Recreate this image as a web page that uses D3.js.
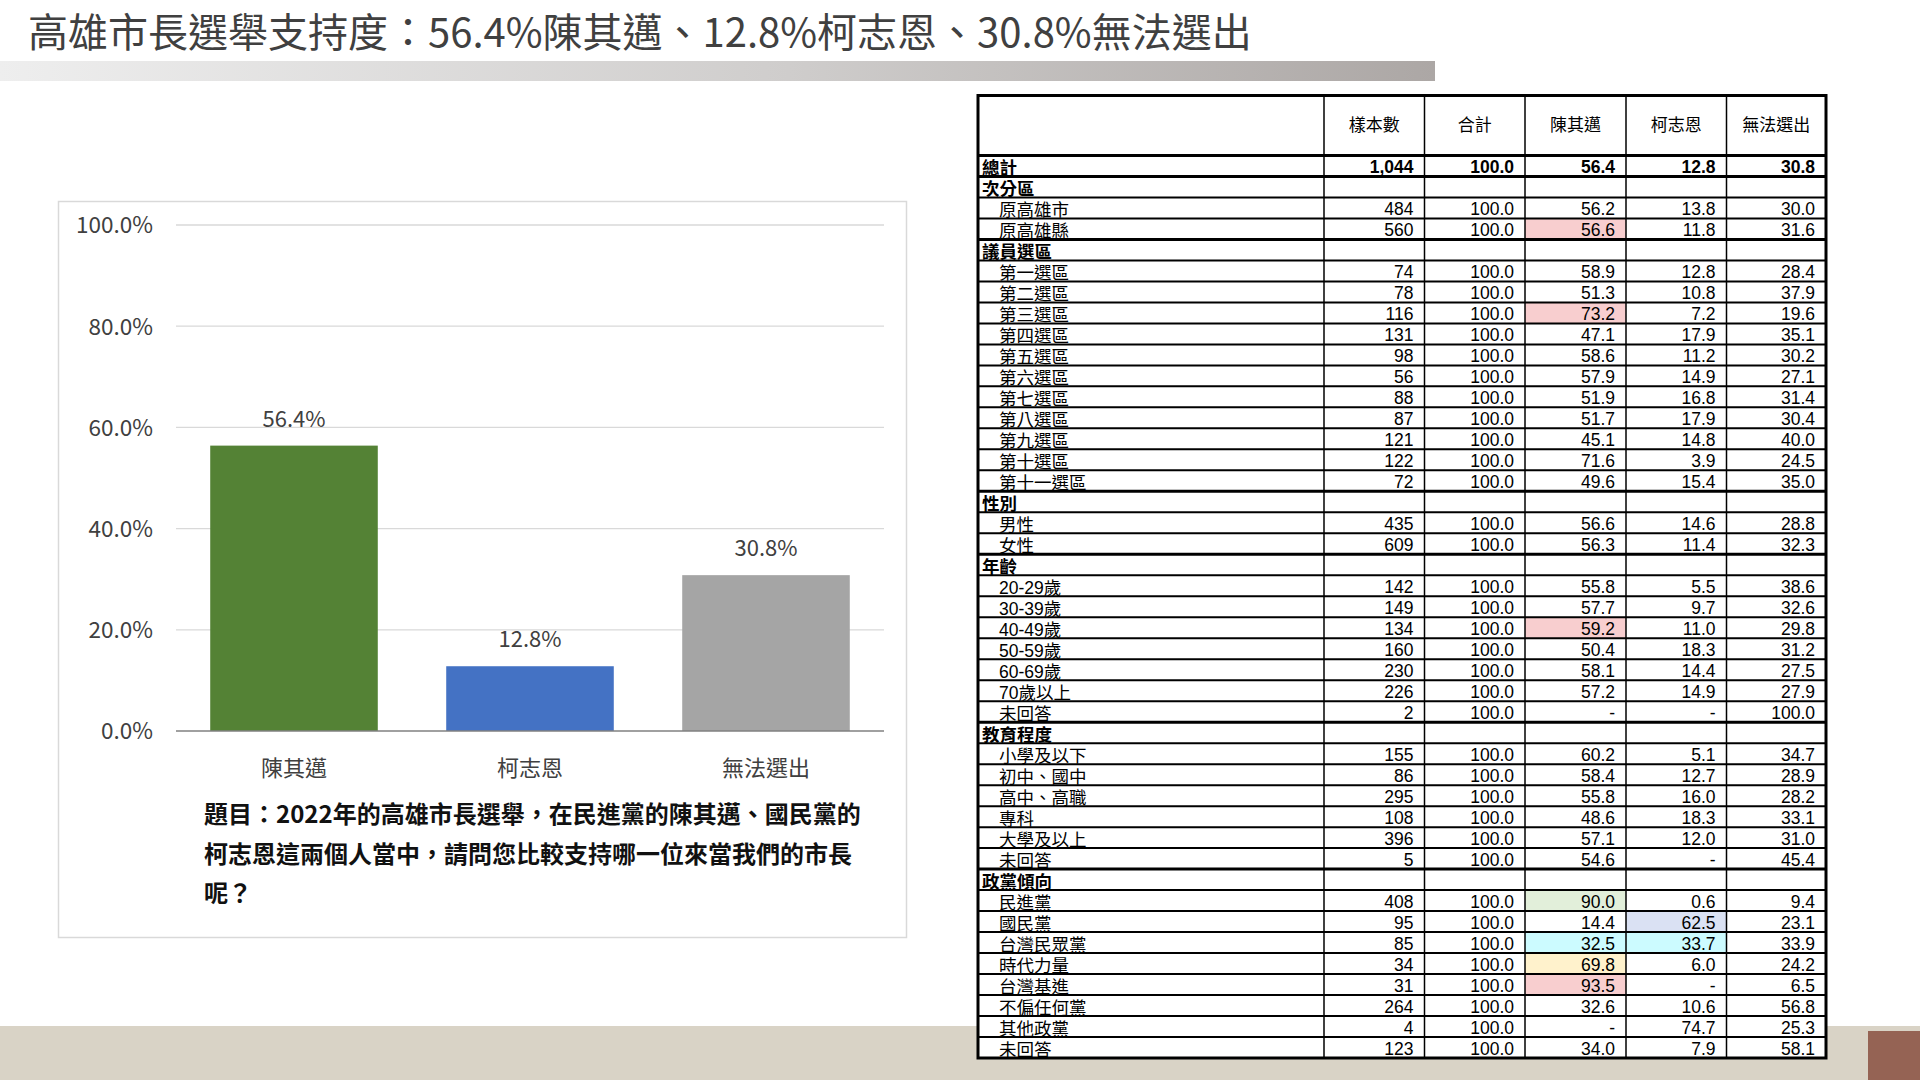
<!DOCTYPE html>
<html>
<head>
<meta charset="utf-8">
<script src="https://cdn.jsdelivr.net/npm/d3@7"></script>
<style>
  html, body { margin: 0; padding: 0; background: #ffffff; }
  svg { display: block; }
  text { font-family: "Noto Sans CJK TC", "Noto Sans", sans-serif; }
  .tbl text { font-family: "Liberation Sans", "Noto Sans CJK TC", sans-serif; }
</style>
</head>
<body>
<script>
// ---------------- DATA ----------------
const chartTitle = "高雄市長選舉支持度：56.4%陳其邁、12.8%柯志恩、30.8%無法選出";
const categories = ["陳其邁", "柯志恩", "無法選出"];
const supportValues = [56.4, 12.8, 30.8];
const yTicks = [0, 20, 40, 60, 80, 100];
const questionLines = [
  "題目：2022年的高雄市長選舉，在民進黨的陳其邁、國民黨的",
  "柯志恩這兩個人當中，請問您比較支持哪一位來當我們的市長",
  "呢？"
];

const tableHeaders = ["樣本數", "合計", "陳其邁", "柯志恩", "無法選出"];
const rowLabels = [
  "總計", "次分區", "原高雄市", "原高雄縣",
  "議員選區", "第一選區", "第二選區", "第三選區", "第四選區", "第五選區", "第六選區",
  "第七選區", "第八選區", "第九選區", "第十選區", "第十一選區",
  "性別", "男性", "女性",
  "年齡", "20-29歲", "30-39歲", "40-49歲", "50-59歲", "60-69歲", "70歲以上", "未回答",
  "教育程度", "小學及以下", "初中、國中", "高中、高職", "專科", "大學及以上", "未回答",
  "政黨傾向", "民進黨", "國民黨", "台灣民眾黨", "時代力量", "台灣基進", "不偏任何黨", "其他政黨", "未回答"
];
// null in sampleSizes = group header row; null in a value array = "-"
const sampleSizes = [
  1044, null, 484, 560,
  null, 74, 78, 116, 131, 98, 56, 88, 87, 121, 122, 72,
  null, 435, 609,
  null, 142, 149, 134, 160, 230, 226, 2,
  null, 155, 86, 295, 108, 396, 5,
  null, 408, 95, 85, 34, 31, 264, 4, 123
];
const totalPct = [
  100.0, null, 100.0, 100.0,
  null, 100.0, 100.0, 100.0, 100.0, 100.0, 100.0, 100.0, 100.0, 100.0, 100.0, 100.0,
  null, 100.0, 100.0,
  null, 100.0, 100.0, 100.0, 100.0, 100.0, 100.0, 100.0,
  null, 100.0, 100.0, 100.0, 100.0, 100.0, 100.0,
  null, 100.0, 100.0, 100.0, 100.0, 100.0, 100.0, 100.0, 100.0
];
const chenPct = [
  56.4, null, 56.2, 56.6,
  null, 58.9, 51.3, 73.2, 47.1, 58.6, 57.9, 51.9, 51.7, 45.1, 71.6, 49.6,
  null, 56.6, 56.3,
  null, 55.8, 57.7, 59.2, 50.4, 58.1, 57.2, null,
  null, 60.2, 58.4, 55.8, 48.6, 57.1, 54.6,
  null, 90.0, 14.4, 32.5, 69.8, 93.5, 32.6, null, 34.0
];
const koPct = [
  12.8, null, 13.8, 11.8,
  null, 12.8, 10.8, 7.2, 17.9, 11.2, 14.9, 16.8, 17.9, 14.8, 3.9, 15.4,
  null, 14.6, 11.4,
  null, 5.5, 9.7, 11.0, 18.3, 14.4, 14.9, null,
  null, 5.1, 12.7, 16.0, 18.3, 12.0, null,
  null, 0.6, 62.5, 33.7, 6.0, null, 10.6, 74.7, 7.9
];
const undecidedPct = [
  30.8, null, 30.0, 31.6,
  null, 28.4, 37.9, 19.6, 35.1, 30.2, 27.1, 31.4, 30.4, 40.0, 24.5, 35.0,
  null, 28.8, 32.3,
  null, 38.6, 32.6, 29.8, 31.2, 27.5, 27.9, 100.0,
  null, 34.7, 28.9, 28.2, 33.1, 31.0, 45.4,
  null, 9.4, 23.1, 33.9, 24.2, 6.5, 56.8, 25.3, 58.1
];

// ---------------- STYLE ----------------
const barColors = ["#548235", "#4472c4", "#a5a5a5"];
const highlightCells = [
  { row: 3, col: 2, color: "#f8cecf" },
  { row: 7, col: 2, color: "#f8cecf" },
  { row: 22, col: 2, color: "#f8cecf" },
  { row: 35, col: 2, color: "#e2efda" },
  { row: 36, col: 3, color: "#dae1f3" },
  { row: 37, col: 2, color: "#ccfbff" },
  { row: 37, col: 3, color: "#ccfbff" },
  { row: 38, col: 2, color: "#fff2cc" },
  { row: 39, col: 2, color: "#f8cecf" }
];

// ---------------- DRAW ----------------
const W = 1920, H = 1080;
const svg = d3.select("body").append("svg").attr("width", W).attr("height", H);
svg.append("rect").attr("width", W).attr("height", H).attr("fill", "#ffffff");

// footer band
svg.append("rect").attr("x", 0).attr("y", 1026).attr("width", W).attr("height", H - 1026).attr("fill", "#d9d3c6");
svg.append("rect").attr("x", 1868).attr("y", 1031).attr("width", W - 1868).attr("height", H - 1031).attr("fill", "#956354");

// gradient bar under title
const defs = svg.append("defs");
const grad = defs.append("linearGradient").attr("id", "titleBar").attr("x1", "0%").attr("x2", "100%");
grad.append("stop").attr("offset", "0%").attr("stop-color", "#eeeeee");
grad.append("stop").attr("offset", "55%").attr("stop-color", "#cfcdcc");
grad.append("stop").attr("offset", "100%").attr("stop-color", "#aca7a5");
svg.append("rect").attr("x", 0).attr("y", 61).attr("width", 1435).attr("height", 20).attr("fill", "url(#titleBar)");

svg.append("text").attr("x", 28).attr("y", 47)
  .attr("font-size", 40).attr("fill", "#404040").text(chartTitle);

// chart panel
svg.append("rect").attr("x", 58.5).attr("y", 201.5).attr("width", 848).attr("height", 736)
  .attr("fill", "#ffffff").attr("stroke", "#d9d9d9").attr("stroke-width", 1.5);

const x = d3.scaleBand().domain(categories).range([176, 884]).paddingInner(0.29).paddingOuter(0.145);
const y = d3.scaleLinear().domain([0, 100]).range([731, 225]);

const g = svg.append("g");
// gridlines
g.append("g").selectAll("line").data(yTicks.filter(t => t > 0)).join("line")
  .attr("x1", 176).attr("x2", 884)
  .attr("y1", d => y(d)).attr("y2", d => y(d))
  .attr("stroke", "#d9d9d9").attr("stroke-width", 1.3);

// y axis labels
const yAxis = d3.axisLeft(y).tickValues(yTicks).tickSize(0).tickPadding(0)
  .tickFormat(d => d3.format(".1f")(d) + "%");
const yg = g.append("g").attr("transform", "translate(153,0)").call(yAxis);
yg.select(".domain").remove();
yg.selectAll("text").attr("font-size", 22.5).attr("fill", "#404040")
  .attr("font-family", "'Noto Sans CJK TC', sans-serif").attr("dy", "0.35em");

// bars
g.append("g").selectAll("rect").data(supportValues).join("rect")
  .attr("x", (d, i) => x(categories[i]))
  .attr("width", x.bandwidth())
  .attr("y", d => y(d))
  .attr("height", d => y(0) - y(d))
  .attr("fill", (d, i) => barColors[i]);

// baseline axis
const xAxis = d3.axisBottom(x).tickSize(0).tickPadding(0);
const xg = g.append("g").attr("transform", `translate(0,${y(0)})`).call(xAxis);
xg.select(".domain").attr("stroke", "#808080").attr("stroke-width", 1.5).attr("d", "M176,0H884");
xg.selectAll("text").attr("font-size", 22).attr("fill", "#404040")
  .attr("font-family", "'Noto Sans CJK TC', sans-serif").attr("y", 45).attr("dy", 0);

// value labels
g.append("g").selectAll("text").data(supportValues).join("text")
  .attr("x", (d, i) => x(categories[i]) + x.bandwidth() / 2)
  .attr("y", d => y(d) - 19)
  .attr("text-anchor", "middle").attr("font-size", 22).attr("fill", "#404040")
  .text(d => d3.format(".1f")(d) + "%");

// question text
svg.append("g").selectAll("text").data(questionLines).join("text")
  .attr("x", 204).attr("y", (d, i) => 823 + i * 39.5)
  .attr("font-size", 24).attr("font-weight", 700).attr("fill", "#111111")
  .text(d => d);

// ---------------- TABLE ----------------
const colEdges = [978, 1324, 1424.5, 1525, 1626, 1726.5, 1826];
const tTop = 95.5, headerBottom = 155.5, tBottom = 1058;
const rowScale = d3.scaleBand().domain(d3.range(rowLabels.length)).range([headerBottom, tBottom]);
const rh = rowScale.bandwidth();
const columns = [sampleSizes, totalPct, chenPct, koPct, undecidedPct];
const isHeaderRow = i => sampleSizes[i] === null;

const tg = svg.append("g").attr("class", "tbl");
tg.append("rect").attr("x", colEdges[0]).attr("y", tTop).attr("width", colEdges[6] - colEdges[0])
  .attr("height", tBottom - tTop).attr("fill", "#ffffff");

// highlighted cells
tg.append("g").selectAll("rect").data(highlightCells).join("rect")
  .attr("x", d => colEdges[d.col + 1])
  .attr("y", d => rowScale(d.row))
  .attr("width", d => colEdges[d.col + 2] - colEdges[d.col + 1])
  .attr("height", rh)
  .attr("fill", d => d.color);

// header labels
tg.append("g").selectAll("text").data(tableHeaders).join("text")
  .attr("x", (d, i) => (colEdges[i + 1] + colEdges[i + 2]) / 2)
  .attr("y", 131).attr("text-anchor", "middle")
  .attr("font-size", 17).attr("fill", "#000").text(d => d);

// row labels
tg.append("g").selectAll("text").data(rowLabels).join("text")
  .attr("x", (d, i) => (i === 0 || isHeaderRow(i)) ? 982 : 999)
  .attr("y", (d, i) => rowScale(i) + rh - 2.5)
  .attr("font-size", 17.5)
  .attr("font-weight", (d, i) => (i === 0 || isHeaderRow(i)) ? 700 : 400)
  .attr("fill", "#000").text(d => d);

// values
const fmtN = d3.format(",");
const fmtP = d3.format(".1f");
columns.forEach((arr, c) => {
  tg.append("g").selectAll("text").data(arr).join("text")
    .attr("x", colEdges[c + 2] - 11)
    .attr("y", (d, i) => rowScale(i) + rh - 3)
    .attr("text-anchor", "end")
    .attr("font-size", 17.5)
    .attr("font-weight", (d, i) => i === 0 ? 700 : 400)
    .attr("fill", "#000")
    .text((d, i) => isHeaderRow(i) ? "" : (d === null ? "-" : (c === 0 ? fmtN(d) : fmtP(d))));
});

// horizontal lines
const hLines = d3.range(1, rowLabels.length).map(i => ({
  y: rowScale(i),
  w: (isHeaderRow(i) || i === 1) ? 3 : 2
}));
hLines.push({ y: headerBottom, w: 3 });
tg.append("g").selectAll("line").data(hLines).join("line")
  .attr("x1", colEdges[0]).attr("x2", colEdges[6])
  .attr("y1", d => d.y).attr("y2", d => d.y)
  .attr("stroke", "#000").attr("stroke-width", d => d.w);

// vertical lines
tg.append("g").selectAll("line").data(colEdges.slice(1, 6)).join("line")
  .attr("x1", d => d).attr("x2", d => d)
  .attr("y1", tTop).attr("y2", tBottom)
  .attr("stroke", "#000").attr("stroke-width", 1.5);

// outer border
tg.append("rect").attr("x", colEdges[0]).attr("y", tTop)
  .attr("width", colEdges[6] - colEdges[0]).attr("height", tBottom - tTop)
  .attr("fill", "none").attr("stroke", "#000").attr("stroke-width", 3);
</script>
</body>
</html>
